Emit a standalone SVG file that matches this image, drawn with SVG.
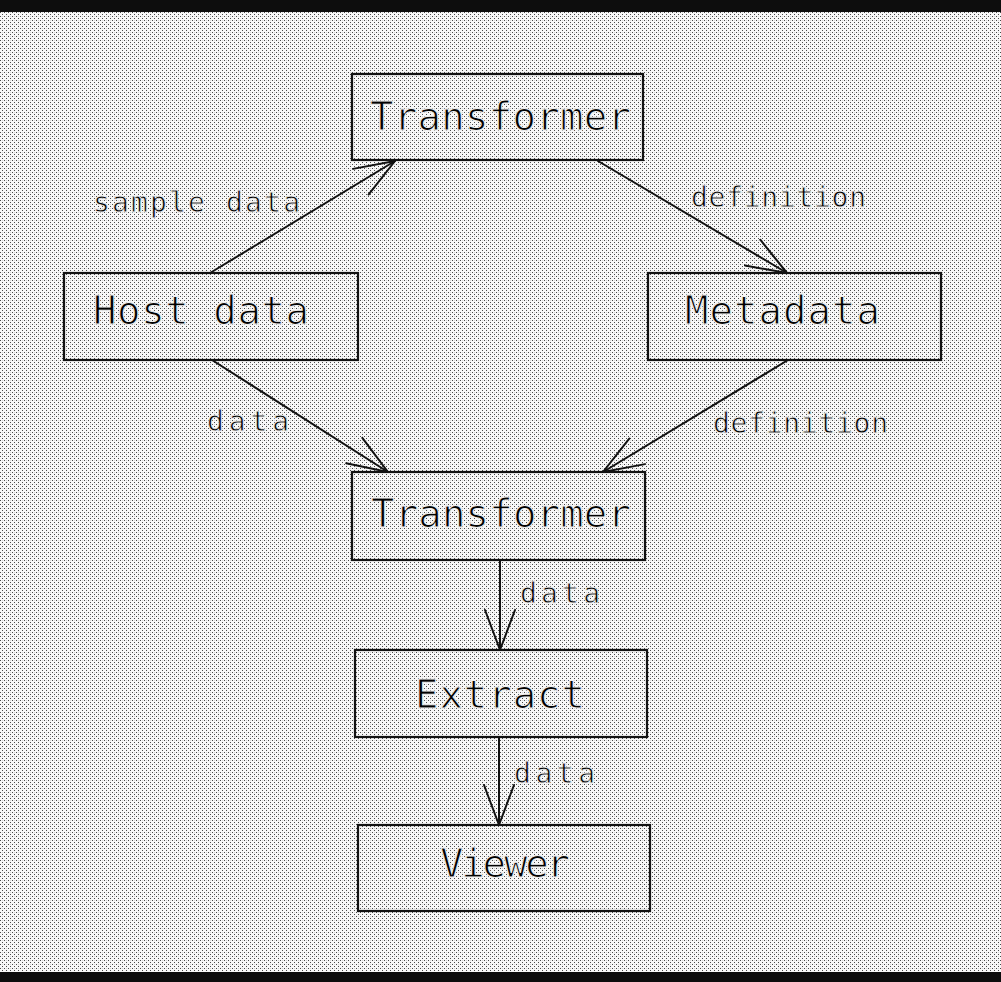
<svg xmlns="http://www.w3.org/2000/svg" width="1001" height="982" viewBox="0 0 1001 982">
  <style>
    .box { fill: none; stroke: #111; stroke-width: 2.2; }
    .edge { fill: none; stroke: #111; stroke-width: 2; stroke-linecap: round; }
    /* thin the glyph stems with a page-toned outline painted over the fill */
    .name { font-family: "DejaVu Sans Mono", "Liberation Mono", monospace; font-size: 39px; fill: #000; stroke: #efefef; stroke-width: 1.1; paint-order: fill stroke; }
    .lbl { font-family: "DejaVu Sans Mono", "Liberation Mono", monospace; font-size: 28px; fill: #000; stroke: #efefef; stroke-width: 0.8; paint-order: fill stroke; }
    .bar { fill: #0d0d0d; }
  </style>
  <defs>
    <!-- halftone stipple used as the page tone -->
    <pattern id="stipple" patternUnits="userSpaceOnUse" width="4" height="4" shape-rendering="crispEdges">
      <rect x="0" y="0" width="4" height="4" fill="#f8f8f8"/>
      <rect x="0" y="0" width="1" height="1" fill="#4a4a4a"/>
      <rect x="2" y="2" width="1" height="1" fill="#4a4a4a"/>
      <rect x="2" y="0" width="1" height="1" fill="#d6d6d6"/>
    </pattern>
    <!-- open V arrowhead -->
    <marker id="vhead" markerUnits="userSpaceOnUse" markerWidth="60" markerHeight="60" viewBox="-50 -30 60 60" refX="0" refY="0" orient="auto" overflow="visible">
      <path d="M-40,-15 L0,0 L-40,15" fill="none" stroke="#111" stroke-width="2" stroke-linecap="round" stroke-linejoin="round"/>
    </marker>
  </defs>

  <!-- page -->
  <rect x="0" y="0" width="1001" height="982" fill="url(#stipple)"/>
  <rect class="bar" x="0" y="0" width="1001" height="12"/>
  <rect class="bar" x="0" y="972" width="1001" height="10"/>

  <!-- connectors -->
  <g id="connectors">
    <line class="edge" x1="210" y1="273" x2="395" y2="161" marker-end="url(#vhead)"/>
    <line class="edge" x1="598" y1="161" x2="787" y2="273" marker-end="url(#vhead)"/>
    <line class="edge" x1="212" y1="360" x2="388" y2="472" marker-end="url(#vhead)"/>
    <line class="edge" x1="788" y1="360" x2="603" y2="472" marker-end="url(#vhead)"/>
    <line class="edge" x1="500" y1="560" x2="500" y2="650" marker-end="url(#vhead)"/>
    <line class="edge" x1="499" y1="737" x2="499" y2="825" marker-end="url(#vhead)"/>
    <text class="lbl" x="93" y="212" textLength="207" lengthAdjust="spacing">sample data</text>
    <text class="lbl" x="691" y="207" textLength="175" lengthAdjust="spacing">definition</text>
    <text class="lbl" x="207" y="431" textLength="82" lengthAdjust="spacing">data</text>
    <text class="lbl" x="713" y="433" textLength="175" lengthAdjust="spacing">definition</text>
    <text class="lbl" x="520" y="603" textLength="80" lengthAdjust="spacing">data</text>
    <text class="lbl" x="514" y="783" textLength="81" lengthAdjust="spacing">data</text>
  </g>

  <!-- nodes -->
  <g id="transformer-top">
    <rect class="box" x="352" y="74" width="291" height="86"/>
    <text class="name" x="370" y="130" textLength="261" lengthAdjust="spacing">Transformer</text>
  </g>
  <g id="host-data">
    <rect class="box" x="64" y="273" width="294" height="87"/>
    <text class="name" x="93" y="324" textLength="216" lengthAdjust="spacing">Host data</text>
  </g>
  <g id="metadata">
    <rect class="box" x="648" y="273" width="293" height="87"/>
    <text class="name" x="685" y="324" textLength="195" lengthAdjust="spacing">Metadata</text>
  </g>
  <g id="transformer-mid">
    <rect class="box" x="352" y="472" width="293" height="88"/>
    <text class="name" x="371" y="527" textLength="260" lengthAdjust="spacing">Transformer</text>
  </g>
  <g id="extract">
    <rect class="box" x="355" y="650" width="292" height="87"/>
    <text class="name" x="415" y="708" textLength="170" lengthAdjust="spacing">Extract</text>
  </g>
  <g id="viewer">
    <rect class="box" x="358" y="825" width="292" height="86"/>
    <text class="name" x="440" y="877" textLength="130" lengthAdjust="spacing">Viewer</text>
  </g>
</svg>
